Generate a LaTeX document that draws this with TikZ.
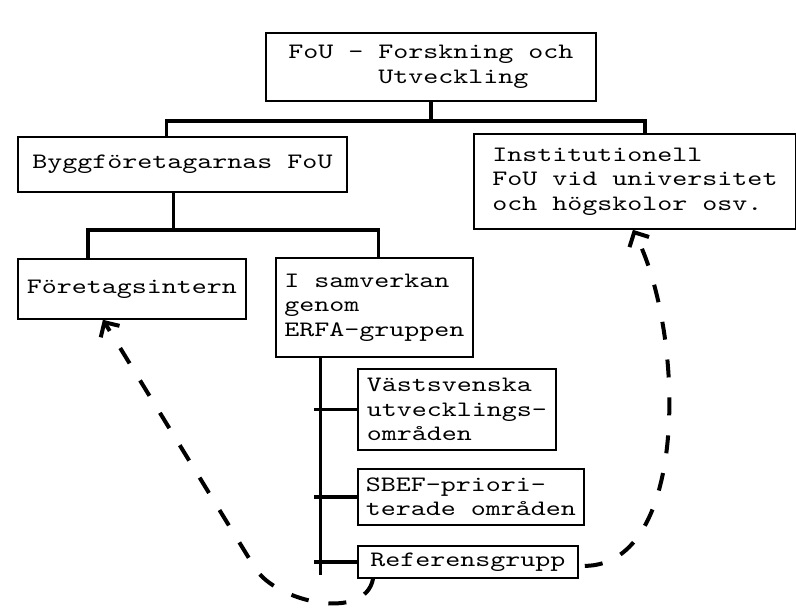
\documentclass[tikz,border=0pt]{standalone}
\usepackage{fontspec}
\newfontfamily\typewriter{lmmono10-regular.otf}[FakeStretch=1.3]
\usepackage{tikz}
\usetikzlibrary{arrows.meta}
\tikzstyle{box}=[draw,line width=1.8pt,anchor=north west,align=left,inner sep=0pt,font=\typewriter\fontsize{22}{24.5}\selectfont]
\tikzstyle{link}=[draw,line width=3.5pt]
\tikzstyle{hint}=[draw,line width=4pt,dash pattern=on 18pt off 20pt,-{Straight Barb[length=11pt,width=22pt]}]

\begin{document}
\begin{tikzpicture}[x=1pt,y=-1pt]
        \useasboundingbox (0,0) rectangle (796,612);
        \node[box,minimum width=330pt,minimum height=68pt] (fou) at (265,32) {FoU - Forskning och\\\phantom{xxxxxx}Utveckling};
        \node[box,minimum width=329pt,minimum height=55pt] (bygg) at (17,136) {Byggföretagarnas FoU};
        \node[box,minimum width=322pt,minimum height=95pt] (inst) at (473,133) {Institutionell\\FoU vid universitet\\och högskolor osv.};
        \node[box,minimum width=228pt,minimum height=60pt] (intern) at (17,258) {Företagsintern};
        \node[box,minimum width=197pt,minimum height=99pt] (samv) at (275,257) {I samverkan\\genom\\ERFA-gruppen};
        \node[box,minimum width=198pt,minimum height=81pt] (vast) at (357,368) {Västsvenska\\utvecklings-\\områden};
        \node[box,minimum width=226pt,minimum height=56pt] (sbef) at (357,468) {SBEF-priori-\\terade områden};
        \node[box,minimum width=220pt,minimum height=32pt] (ref) at (357,545) {Referensgrupp};
        \draw[link] (fou.south) -- ++(0,20);
        \draw[link] ([xshift=-16pt]bygg.north) -- ++(0,-15) -| ([xshift=10pt]inst.north);
        \draw[link] ([xshift=-9pt]bygg.south) -- ++(0,37) coordinate (fork);
        \draw[link] ([xshift=-44pt]intern.north) |- (fork) -| ([xshift=4pt]samv.north);
        \draw[link] ([xshift=-54pt]samv.south) -- ++(0,217) coordinate (spine);
        \draw[link,shorten <=-6pt] (vast.west -| spine) -- (vast.west);
        \draw[link,shorten <=-6pt] (sbef.west -| spine) -- (sbef.west);
        \draw[link,shorten <=-6pt] (ref.west -| spine) -- (ref.west);
        \draw[hint] ([xshift=6pt,yshift=-4pt]ref.east) .. controls (690,565) and (685,330) .. ([xshift=-2pt]inst.south);
        \draw[hint] ([xshift=16pt]ref.south west) .. controls (365,622) and (276,602) .. (255,568) -- ([xshift=-29pt]intern.south);
      \end{tikzpicture}
\end{document}
